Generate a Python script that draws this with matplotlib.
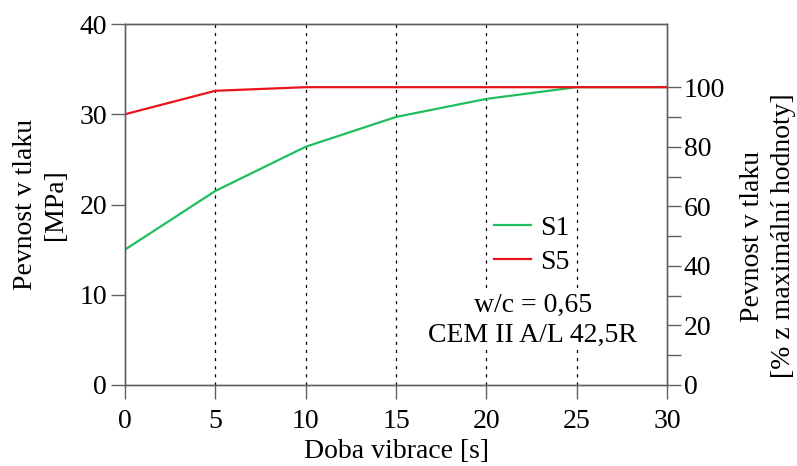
import matplotlib
matplotlib.use("Agg")
import matplotlib.pyplot as plt
import numpy as np

plt.rcParams['font.family'] = ['Liberation Serif', 'DejaVu Serif']
plt.rcParams['mathtext.fontset'] = 'stix'

x_vals = [0, 5, 10, 15, 20, 25, 30]
s1 = [15.0, 21.5, 26.4, 29.7, 31.7, 33.0, 33.0]
s5 = [30.0, 32.6, 33.0, 33.0, 33.0, 33.0, 33.0]
max_val = 33.0
labels = ["S1", "S5"]
colors = ["#1fbf5f", "#e8141c"]

fs = 20
spine_c = "#606060"

fig = plt.figure(figsize=(7.97, 4.66), dpi=100)
ax = fig.add_axes([125/797, 1-385/466, (667-125)/797, (385-24)/466])

ax.plot(x_vals, s1, color=colors[0], lw=1.6, label=labels[0], zorder=3)
ax.plot(x_vals, s5, color=colors[1], lw=1.6, label=labels[1], zorder=3)

ax.set_xlim(0, 30)
ax.set_ylim(0, 40)
ax.set_xticks(x_vals)
ax.set_yticks([0, 10, 20, 30, 40])
for xv in x_vals[1:-1]:
    ax.axvline(xv, color='black', lw=0.9, ls=(0, (2.5, 4)), zorder=1)

for sp in ax.spines.values():
    sp.set_color(spine_c)
    sp.set_linewidth(1.0)
ax.tick_params(axis='both', direction='out', length=10, width=1.0, color=spine_c,
               labelsize=fs, pad=3)
ax.tick_params(axis='x', pad=7)
ax.set_xlabel("Doba vibrace [s]", fontsize=fs, labelpad=4)
ax.set_ylabel("Pevnost v tlaku\n[MPa]", fontsize=fs, labelpad=8, linespacing=1.3)

ax2 = ax.twinx()
ax2.set_ylim(0, 40 / max_val * 100)
ax2.set_yticks(np.arange(0, 101, 10))
ax2.set_yticklabels([str(v) if v % 20 == 0 else "" for v in range(0, 101, 10)])
for sp in ax2.spines.values():
    sp.set_color(spine_c)
    sp.set_linewidth(1.0)
ax2.tick_params(axis='y', direction='out', length=10, width=1.0, color=spine_c,
                labelsize=fs, pad=2)
ax2.set_ylabel("Pevnost v tlaku\n[% z maximální hodnoty]", fontsize=fs,
               linespacing=1.3)
ax2.yaxis.set_label_coords((740 - 125) / 542, 50 / (40 / max_val * 100))

leg = ax.legend(loc='upper left', bbox_to_anchor=(0.66, 0.50), frameon=False,
                fontsize=fs, handlelength=1.35, handletextpad=0.3,
                labelspacing=0.3, borderaxespad=0)

ax.text(0.752, 0.178, "w/c = 0,65\nCEM II A/L 42,5R", transform=ax.transAxes,
        ha='center', va='center', fontsize=fs, linespacing=1.25, zorder=4,
        bbox=dict(facecolor='white', edgecolor='none', pad=1))

fig.savefig("out.png", dpi=100)
